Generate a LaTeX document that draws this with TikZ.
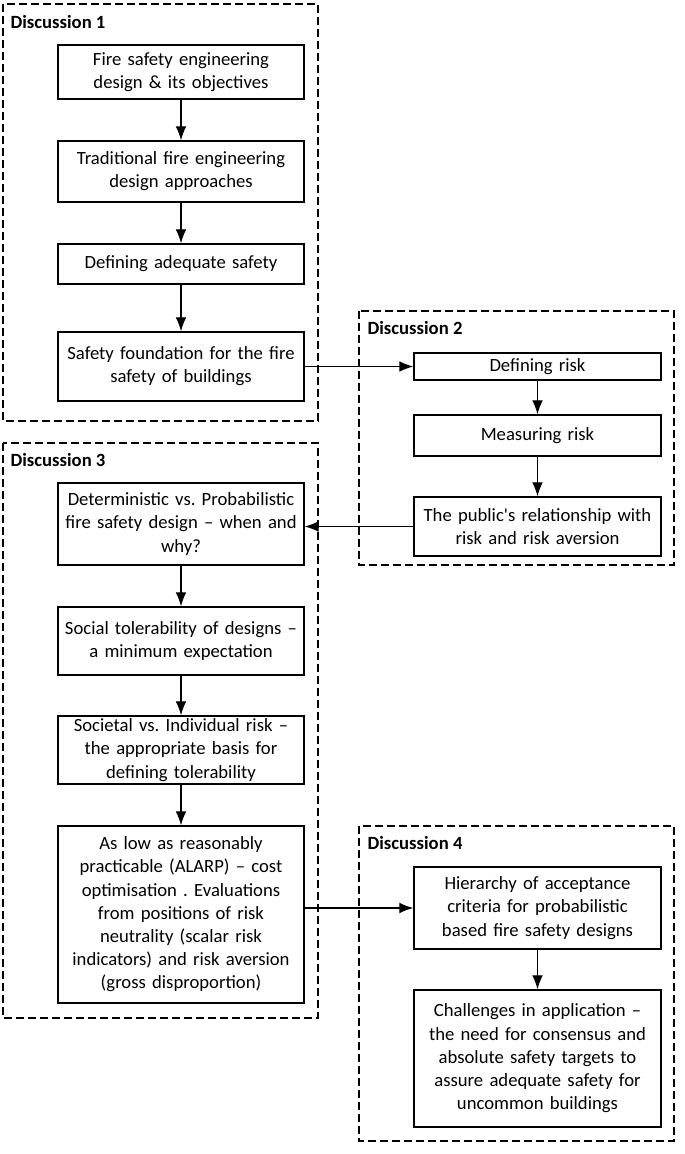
\documentclass[tikz,border=0pt]{standalone}
\usepackage{fontspec}
\setmainfont{Carlito}
\usetikzlibrary{arrows.meta}
\frenchspacing

\tikzset{
  stagebox/.style={draw, line width=1pt, align=center, inner sep=1pt,
    minimum width=184.5pt, text width=182pt,
    font=\fontsize{14}{17.4}\selectfont},
  groupframe/.style={draw, line width=1pt, dash pattern=on 6pt off 3pt},
  grouptitle/.style={anchor=base west, inner sep=0pt,
    font=\fontsize{14}{16}\selectfont\bfseries},
}

\begin{document}
\begin{tikzpicture}[x=0.75pt, y=-0.75pt, >={Latex[length=10.5pt,width=8pt]}, line width=0.9pt]
\useasboundingbox (0,0) rectangle (685,1154);

\draw[groupframe](3,4) rectangle (318,421);
\draw[groupframe](359,311) rectangle (674,565);
\draw[groupframe](3,443) rectangle (318,1018);
\draw[groupframe](359,826) rectangle (674,1141);

\node[grouptitle] (t1) at (10,28) {Discussion 1};
\node[grouptitle] (t2) at (367,334) {Discussion 2};
\node[grouptitle] (t3) at (10,466) {Discussion 3};
\node[grouptitle] (t4) at (367,849) {Discussion 4};

\node[stagebox, minimum height=40.5pt] (f1) at (181,72) {Fire safety engineering\\design \& its objectives};
\node[stagebox, minimum height=45.75pt] (f2) at (181,171.5) {Traditional fire engineering\\design approaches};
\node[stagebox, minimum height=30pt] (f3) at (181,264) {Defining adequate safety};
\node[stagebox, minimum height=51.75pt] (f4) at (181,366.5) {Safety foundation for the fire\\safety of buildings};

\node[stagebox, minimum height=20.25pt, minimum width=185.25pt] (r1) at (537.5,366.5) {Defining risk};
\node[stagebox, minimum height=30.75pt, minimum width=185.25pt] (r2) at (537.5,435.5) {Measuring risk};
\node[stagebox, minimum height=44.25pt, minimum width=185.25pt] (r3) at (537.5,526.5) {The public\textquotesingle s relationship with\\risk and risk aversion};

\node[stagebox, minimum height=61.5pt] (s1) at (181,524) {Deterministic vs. Probabilistic\\fire safety design -- when and\\why?};
\node[stagebox, minimum height=51pt] (s2) at (181,641) {Social tolerability of designs --\\a minimum expectation};
\node[stagebox, minimum height=51pt] (s3) at (181,750) {Societal vs. Individual risk --\\the appropriate basis for\\defining tolerability};
\node[stagebox, minimum height=132.75pt] (s4) at (181,914.5) {As low as reasonably\\practicable (ALARP) -- cost\\optimisation . Evaluations\\from positions of risk\\neutrality (scalar risk\\indicators) and risk aversion\\(gross disproportion)};

\node[stagebox, minimum height=61.5pt, minimum width=185.25pt] (h1) at (537.5,908) {Hierarchy of acceptance\\criteria for probabilistic\\based fire safety designs};
\node[stagebox, minimum height=102.75pt, minimum width=185.25pt] (h2) at (537.5,1058.5) {Challenges in application --\\the need for consensus and\\absolute safety targets to\\assure adequate safety for\\uncommon buildings};

\draw[->](f1)--(f2);
\draw[->](f2)--(f3);
\draw[->](f3)--(f4);
\draw[->](f4)--(r1);
\draw[->](r1)--(r2);
\draw[->](r2)--(r3);
\draw[->](r3.west)--(r3.west -| s1.east);
\draw[->](s1)--(s2);
\draw[->](s2)--(s3);
\draw[->](s3)--(s4);
\draw[->](s4.east |- h1.west)--(h1.west);
\draw[->](h1)--(h2);

\end{tikzpicture}
\end{document}
